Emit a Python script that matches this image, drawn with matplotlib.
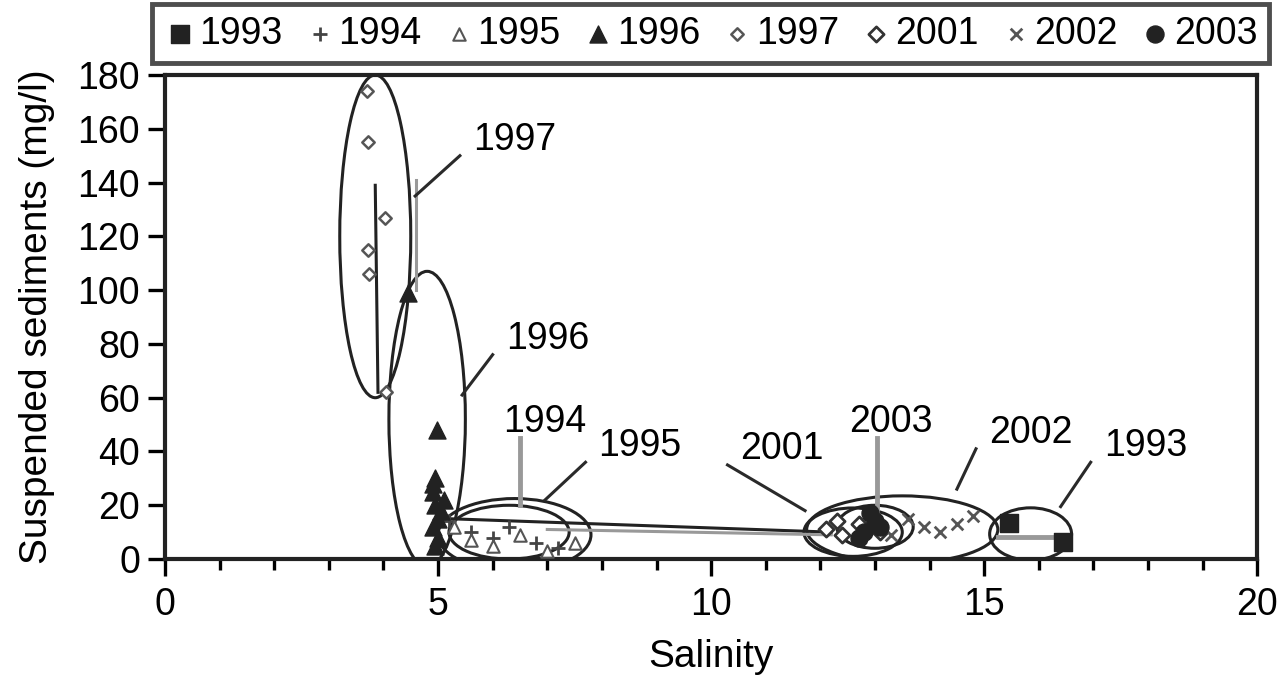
import matplotlib
matplotlib.use("Agg")
import matplotlib.pyplot as plt
from matplotlib.patches import Ellipse
from matplotlib.ticker import MultipleLocator

plt.rcParams['font.family'] = ['Liberation Sans', 'DejaVu Sans']

# salinity / suspended sediment samples per survey year
sal_1993 = [15.45, 16.45]
sed_1993 = [13.5, 6.5]
sal_1994 = [5.2, 5.6, 6.0, 6.3, 6.8, 7.2]
sed_1994 = [14, 10, 8, 12, 6, 4]
sal_1995 = [5.3, 5.6, 6.0, 6.5, 7.0, 7.5]
sed_1995 = [12, 7, 5, 9, 3, 6]
sal_1996 = [4.45, 4.98, 4.95, 4.9, 4.95, 5.0, 4.9, 5.0, 4.95, 5.05, 5.1, 4.9]
sed_1996 = [99, 48, 30, 25, 20, 15, 12, 8, 5, 18, 22, 28]
sal_1997 = [3.7, 3.72, 4.02, 3.72, 3.73, 4.05]
sed_1997 = [174, 155, 127, 115, 106, 62]
sal_2001 = [12.1, 12.4, 12.7, 13.1, 12.3]
sed_2001 = [11, 9, 13, 10, 14]
sal_2002 = [13.3, 13.6, 13.9, 14.2, 14.5, 14.8]
sed_2002 = [9, 15, 12, 10, 13, 16]
sal_2003 = [12.7, 12.8, 12.9, 13.0, 13.1]
sed_2003 = [8, 10, 17, 14, 12]

# ellipses drawn around each year's cloud: (center x, center y, width, height)
ellipses = {
    '1997': (3.85, 120, 1.3, 120),
    '1996': (4.8, 52, 1.4, 110),
    '1995': (6.4, 9, 2.8, 27),
    '1994': (6.3, 10, 2.2, 20),
    '2001': (12.6, 10, 1.8, 18),
    '2003': (13.0, 12, 1.4, 16),
    '2002': (13.5, 11, 3.5, 25),
    '1993': (15.85, 9.3, 1.5, 19.5),
}

# year labels: text position and the point their leader line touches
label_pos = {
    '1997': ((6.4, 156), (4.58, 135)),
    '1996': ((7.0, 82), (5.44, 61)),
    '1994': ((6.95, 51), (6.5, 20)),
    '1995': ((8.7, 42), (6.96, 22)),
    '2001': ((11.3, 41), (11.72, 18)),
    '2003': ((13.3, 51), (13.04, 18)),
    '2002': ((15.85, 47), (14.5, 26)),
    '1993': ((17.95, 42), (16.4, 19.5)),
}
grey_leaders = ['1994', '2003']

# connecting lines between the year clusters
path_dark_x = [3.85, 3.9]
path_dark_y = [139, 62]
path_grey_x = [4.6, 4.6]
path_grey_y = [141, 100]
link_dark_x = [5.2, 12.2]
link_dark_y = [15, 10]
link_grey_x = [7.0, 12.2]
link_grey_y = [11, 9]
link_1993_x = [15.25, 16.35]
link_1993_y = [8.2, 8.2]

fig = plt.figure(figsize=(12.79, 6.76), dpi=100)
ax = fig.add_axes([0.129, 0.173, 0.854, 0.716])

ax.plot(path_dark_x, path_dark_y, color='#222222', lw=2.2)
ax.plot(path_grey_x, path_grey_y, color='#999999', lw=2.2)
ax.plot(link_dark_x, link_dark_y, color='#222222', lw=2.2)
ax.plot(link_grey_x, link_grey_y, color='#999999', lw=2.2)
ax.plot(link_1993_x, link_1993_y, color='#999999', lw=3.5)

for name, (cx, cy, w, h) in ellipses.items():
    ax.add_patch(Ellipse((cx, cy), w, h, fill=False, ec='#222222', lw=2.2))

for name, ((tx, ty), (px, py)) in label_pos.items():
    col = '#999999' if name in grey_leaders else '#2a2a2a'
    if name in grey_leaders:
        ax.plot([px, px], [ty - 6, py], color=col, lw=3.5)
    else:
        ax.plot([px, tx - 1.0], [py, ty - 6], color=col, lw=2.2)
    ax.text(tx, ty, name, fontsize=27, ha='center', va='center')

ax.scatter(sal_1993, sed_1993, marker='s', s=150, color='#222222', label='1993', zorder=3)
ax.scatter(sal_1994, sed_1994, marker='+', s=110, color='#444444', lw=2, label='1994', zorder=3)
ax.scatter(sal_1995, sed_1995, marker='^', s=80, facecolor='white', edgecolor='#555555', lw=1.5, label='1995', zorder=3)
ax.scatter(sal_1996, sed_1996, marker='^', s=150, color='#222222', label='1996', zorder=3)
ax.scatter(sal_1997, sed_1997, marker='D', s=40, facecolor='white', edgecolor='#555555', lw=1.8, label='1997', zorder=3)
ax.scatter(sal_2001, sed_2001, marker='D', s=60, facecolor='white', edgecolor='#333333', lw=2, label='2001', zorder=3)
ax.scatter(sal_2002, sed_2002, marker='x', s=70, color='#555555', lw=2, label='2002', zorder=3)
ax.scatter(sal_2003, sed_2003, marker='o', s=150, color='#222222', label='2003', zorder=3)

ax.set_xlim(0, 20)
ax.set_ylim(0, 180)
ax.xaxis.set_major_locator(MultipleLocator(5))
ax.xaxis.set_minor_locator(MultipleLocator(1))
ax.yaxis.set_major_locator(MultipleLocator(20))
ax.tick_params(axis='both', which='major', direction='out', length=12, width=2.4,
               labelsize=27, pad=6)
ax.tick_params(axis='x', which='minor', direction='out', length=8, width=2.4)
ax.tick_params(axis='x', pad=8)
for sp in ax.spines.values():
    sp.set_linewidth(3)
    sp.set_color('#222222')

ax.set_xlabel('Salinity', fontsize=28, labelpad=12)
ax.set_ylabel('Suspended sediments (mg/l)', fontsize=28, labelpad=16)

leg = fig.legend(loc='lower left', bbox_to_anchor=(0.119, 0.907, 0.873, 0.08), mode='expand',
                 ncol=8, fontsize=27, handletextpad=0.05, columnspacing=0.3,
                 borderpad=0.3, borderaxespad=0, handlelength=0.9,
                 fancybox=False, frameon=True)
leg.get_frame().set_edgecolor('#222222')
leg.get_frame().set_linewidth(3.5)

fig.savefig('out.png', dpi=100)
